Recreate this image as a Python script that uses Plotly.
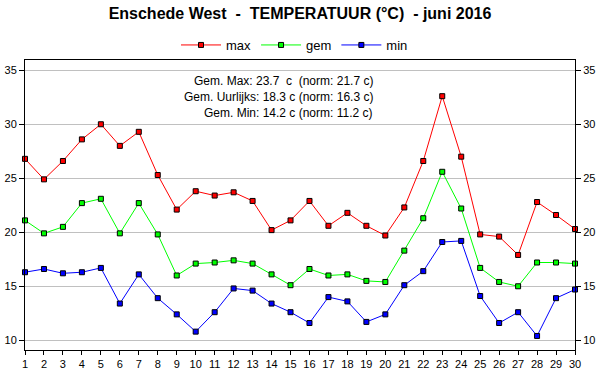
import plotly.graph_objects as go

days = list(range(1, 31))
t_max = [26.8, 24.9, 26.6, 28.6, 30.0, 28.0, 29.3, 25.3, 22.1, 23.8,
         23.4, 23.7, 22.9, 20.2, 21.1, 22.9, 20.6, 21.8, 20.6, 19.7,
         22.3, 26.6, 32.6, 27.0, 19.8, 19.6, 17.9, 22.8, 21.6, 20.3]
t_gem = [21.1, 19.9, 20.5, 22.7, 23.1, 19.9, 22.7, 19.8, 16.0, 17.1,
         17.2, 17.4, 17.1, 16.1, 15.1, 16.6, 16.0, 16.1, 15.5, 15.4,
         18.3, 21.3, 25.6, 22.2, 16.7, 15.4, 15.0, 17.2, 17.2, 17.1]
t_min = [16.3, 16.6, 16.2, 16.3, 16.7, 13.4, 16.1, 13.9, 12.4, 10.8,
         12.6, 14.8, 14.6, 13.4, 12.6, 11.6, 14.0, 13.6, 11.7, 12.4,
         15.1, 16.4, 19.1, 19.2, 14.1, 11.6, 12.6, 10.4, 13.9, 14.7]
y_ticks = [10, 15, 20, 25, 30, 35]
info_lines = ["Gem. Max: 23.7  c  (norm: 21.7 c)",
              "Gem. Uurlijks: 18.3 c (norm: 16.3 c)",
              "Gem. Min: 14.2 c (norm: 11.2 c)"]

FONT = "Liberation Sans, Arial, sans-serif"
fig = go.Figure()
for name, vals, col in [("max", t_max, "#ff0000"), ("gem", t_gem, "#00ff00"), ("min", t_min, "#0000ff")]:
    fig.add_trace(go.Scatter(
        x=days, y=vals, name=name, mode="lines+markers",
        line=dict(color=col, width=1),
        marker=dict(symbol="square", size=5, color=col, line=dict(color="black", width=1)),
        cliponaxis=False,
    ))
# invisible trace for the right axis
fig.add_trace(go.Scatter(x=days, y=t_max, yaxis="y2", showlegend=False,
                         mode="lines", line=dict(width=0), hoverinfo="skip", opacity=0))

yr = [9.1, 35.95]
fig.update_layout(
    width=600, height=390,
    margin=dict(l=25, r=25, t=60, b=40, autoexpand=False),
    paper_bgcolor="white", plot_bgcolor="white",
    font=dict(family=FONT, size=12, color="black"),
    title=dict(text="<b>Enschede West  -  TEMPERATUUR (°C)  - juni 2016</b>",
               x=0.5, xref="paper", xanchor="center", y=377 / 390, yanchor="middle",
               font=dict(size=16, family=FONT)),
    legend=dict(orientation="h", x=0.49, xanchor="center", y=(350 - 45) / 290, yanchor="middle",
                font=dict(size=13), itemwidth=40, traceorder="normal",
                bgcolor="rgba(0,0,0,0)"),
    xaxis=dict(range=[1, 30], tickmode="array", tickvals=days, ticktext=[str(d) for d in days],
               showgrid=False, zeroline=False, showline=True, linecolor="black", linewidth=1,
               mirror=True, ticks="outside", ticklen=4, tickcolor="black",
               tickfont=dict(size=11), automargin=False),
    yaxis=dict(range=yr, tickvals=y_ticks, showgrid=True, gridcolor="#c0c0c0", gridwidth=1,
               zeroline=False, showline=True, linecolor="black", linewidth=1, mirror=True,
               ticks="outside", ticklen=5, tickcolor="black", tickfont=dict(size=11),
               automargin=False),
    yaxis2=dict(range=yr, tickvals=y_ticks, overlaying="y", side="right", showgrid=False,
                zeroline=False, showline=False, ticks="outside", ticklen=5, tickcolor="black",
                tickfont=dict(size=11), automargin=False),
)
for i, line in enumerate(info_lines):
    fig.add_annotation(text=line, xref="paper", yref="paper",
                       x=(375 - 25) / 550, xanchor="right",
                       y=(350 - (81 + i * 16)) / 290, yanchor="middle",
                       showarrow=False, font=dict(size=12, family=FONT))

fig.write_html("out.html", config={"displayModeBar": False},
               post_script="document.body.style.margin='0';")
